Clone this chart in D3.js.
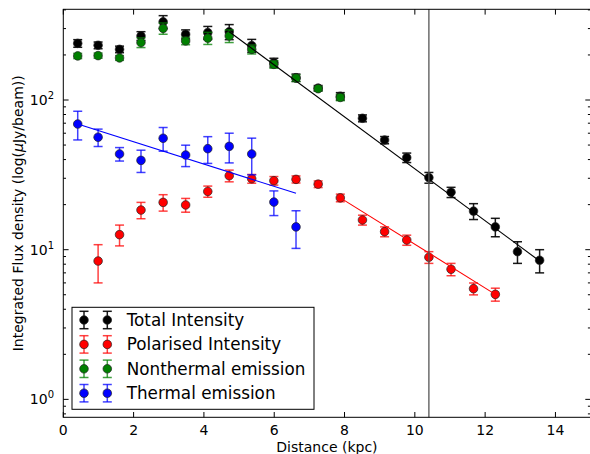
<!DOCTYPE html>
<html>
<head>
<meta charset="utf-8">
<script src="https://cdn.jsdelivr.net/npm/d3@7"></script>
<style>
  body { margin: 0; background: #fff; }
  text { font-family: "DejaVu Sans", sans-serif; }
</style>
</head>
<body>
<script>
// radial profiles: distance (kpc) vs integrated flux density (uJy/beam)

var distance = [0.41, 0.99, 1.60, 2.21, 2.84, 3.48, 4.11, 4.72, 5.36, 5.99, 6.62,
                7.25, 7.88, 8.51, 9.14, 9.77, 10.40, 11.03, 11.67, 12.29, 12.92, 13.55];

var totalFlux = [239, 232, 218, 268, 333, 275, 282, 286, 231, 178, 141,
                 120, 106, 75.5, 54, 41.2, 30.3, 24.2, 18.1, 14.2, 9.7, 8.5];
var totalErr  = [14, 12, 11, 18, 33, 19, 28, 33, 23, 12, 8,
                 5, 6, 4, 3, 3, 2.5, 1.9, 2.2, 2.0, 1.6, 1.5];

// polarised intensity starts at the second ring
var polFlux = [8.4, 12.6, 18.4, 20.7, 19.9, 24.5, 31.2, 29.8, 28.9, 29.5,
               27.4, 22.2, 15.8, 13.2, 11.6, 8.9, 7.4, 5.49, 5.03];
var polErr  = [2.4, 2.0, 2.3, 2.6, 2.1, 2.1, 2.8, 2.0, 1.9, 1.6,
               1.4, 1.3, 1.2, 1.0, 0.9, 0.8, 0.7, 0.5, 0.5];

var ntFlux = [197, 198, 191, 242, 301, 248, 259, 268, 218, 173, 140, 119, 104];
var ntErr  = [8, 8, 7, 18, 26, 14, 24, 26, 15, 10, 7, 4, 5];

var thFlux = [69.1, 56.4, 43.6, 39.5, 55.5, 42.9, 47.3, 49.0, 43.6, 20.8, 14.2];
var thErr  = [15, 7.5, 4.5, 6.7, 10, 7, 9.6, 11, 12, 3.9, 4];

// exponential fits (straight on the log axis), end points
var fitTotalX = [4.72, 13.55], fitTotalY = [286, 8.4];
var fitPolX   = [7.88, 12.29],  fitPolY   = [22.2, 5.03];
var fitThX    = [0.41, 6.62],   fitThY    = [69.1, 23.8];

var markerLine = 10.4;

var xTicks = [0, 2, 4, 6, 8, 10, 12, 14];
var legendNames = ["Total Intensity", "Polarised Intensity", "Nonthermal emission", "Thermal emission"];

//////////////////////////////////////////////////////////////////////////////

var W = 590, H = 454;
var pL = 63.3, pR = 590.6, pT = 9.3, pB = 417.3;

var svg = d3.select("body").append("svg")
    .attr("width", W)
    .attr("height", H);

var x = d3.scaleLinear().domain([0, 15]).range([pL, pR]);
var y = d3.scaleLog().domain([0.759, 403.6]).range([pB, pT]);

function zip(xs, vs, es) {
    return vs.map(function(v, i) { return {x: xs[i], v: v, e: es[i]}; });
}

var series = [
    {name: legendNames[0], color: "#000000", data: zip(distance, totalFlux, totalErr)},
    {name: legendNames[1], color: "#ff0000", data: zip(distance.slice(1), polFlux, polErr)},
    {name: legendNames[2], color: "#008000", data: zip(distance, ntFlux, ntErr)},
    {name: legendNames[3], color: "#0000ff", data: zip(distance, thFlux, thErr)}
];

var capW = 4.5, rad = 4.3;

series.forEach(function(s) {
    var g = svg.append("g");
    var eb = g.append("g")
        .attr("stroke", s.color)
        .attr("stroke-width", 1.5)
        .attr("stroke-opacity", s.color == "#000000" ? 0.9 : 0.75);
    eb.selectAll("line.v").data(s.data).enter().append("line")
        .attr("x1", d => x(d.x)).attr("x2", d => x(d.x))
        .attr("y1", d => y(d.v + d.e)).attr("y2", d => y(d.v - d.e));
    eb.selectAll("line.t").data(s.data).enter().append("line")
        .attr("x1", d => x(d.x) - capW).attr("x2", d => x(d.x) + capW)
        .attr("y1", d => y(d.v + d.e)).attr("y2", d => y(d.v + d.e));
    eb.selectAll("line.b").data(s.data).enter().append("line")
        .attr("x1", d => x(d.x) - capW).attr("x2", d => x(d.x) + capW)
        .attr("y1", d => y(d.v - d.e)).attr("y2", d => y(d.v - d.e));
    g.selectAll("circle").data(s.data).enter().append("circle")
        .attr("cx", d => x(d.x))
        .attr("cy", d => y(d.v))
        .attr("r", rad)
        .attr("fill", s.color)
        .attr("stroke", "#222")
        .attr("stroke-width", 0.7);
});

var line = d3.line().x(d => x(d[0])).y(d => y(d[1]));
[[fitTotalX, fitTotalY, "#000000"], [fitPolX, fitPolY, "#ff0000"], [fitThX, fitThY, "#0000ff"]]
    .forEach(function(f) {
        svg.append("path")
            .datum(f[0].map((v, i) => [v, f[1][i]]))
            .attr("d", line)
            .attr("fill", "none")
            .attr("stroke", f[2])
            .attr("stroke-width", 1.1);
    });

svg.append("line")
    .attr("x1", x(markerLine)).attr("x2", x(markerLine))
    .attr("y1", pT).attr("y2", pB)
    .attr("stroke", "#555")
    .attr("stroke-width", 1.3);

//////////////////////////////////////////////////////////////////////////////
// axes, ticks pointing in

var axes = svg.append("g").attr("stroke", "#000").attr("stroke-width", 1);

axes.selectAll("line.xb").data(xTicks).enter().append("line")
    .attr("x1", d => x(d)).attr("x2", d => x(d))
    .attr("y1", pB).attr("y2", pB - 5.3);
axes.selectAll("line.xt").data(xTicks).enter().append("line")
    .attr("x1", d => x(d)).attr("x2", d => x(d))
    .attr("y1", pT).attr("y2", pT + 5.3);

var yTicks = y.ticks().filter(d => d >= y.domain()[0] && d <= y.domain()[1]);
function isMajor(d) { return Math.abs(Math.log10(d) - Math.round(Math.log10(d))) < 1e-6; }

axes.selectAll("line.yl").data(yTicks).enter().append("line")
    .attr("x1", pL).attr("x2", d => pL + (isMajor(d) ? 5.3 : 2.7))
    .attr("y1", d => y(d)).attr("y2", d => y(d));
axes.selectAll("line.yr").data(yTicks).enter().append("line")
    .attr("x1", pR).attr("x2", d => pR - (isMajor(d) ? 5.3 : 2.7))
    .attr("y1", d => y(d)).attr("y2", d => y(d));

svg.append("rect")
    .attr("x", pL).attr("y", pT)
    .attr("width", pR - pL).attr("height", pB - pT)
    .attr("fill", "none").attr("stroke", "#000").attr("stroke-width", 1);

svg.selectAll("text.xl").data(xTicks).enter().append("text")
    .attr("x", d => x(d)).attr("y", pB + 18)
    .attr("text-anchor", "middle")
    .attr("font-size", 14)
    .text(d => d);

var yl = svg.selectAll("text.yl").data(yTicks.filter(isMajor)).enter().append("text")
    .attr("x", 54).attr("y", d => y(d) + 5)
    .attr("text-anchor", "end")
    .attr("font-size", 14);
yl.append("tspan").text("10");
yl.append("tspan").attr("dy", -6).attr("font-size", 10).text(d => Math.round(Math.log10(d)));

svg.append("text")
    .attr("x", (pL + pR) / 2).attr("y", 452)
    .attr("text-anchor", "middle")
    .attr("font-size", 14)
    .text("Distance (kpc)");

var ylab = svg.append("text")
    .attr("transform", "translate(22.5," + (pT + pB) / 2 + ") rotate(-90)")
    .attr("text-anchor", "middle")
    .attr("font-size", 14);
ylab.append("tspan").text("Integrated Flux density (log(");
ylab.append("tspan").attr("font-style", "italic").text("\u03bc");
ylab.append("tspan").text("Jy/beam))");

//////////////////////////////////////////////////////////////////////////////
// legend

var lg = svg.append("g");
lg.append("rect")
    .attr("x", 72).attr("y", 307.3)
    .attr("width", 242).attr("height", 102)
    .attr("fill", "#fff").attr("stroke", "#000").attr("stroke-width", 1);

series.forEach(function(s, i) {
    var cy = 320 + i * 24.4;
    [84, 107.3].forEach(function(cx) {
        var eg = lg.append("g").attr("stroke", s.color).attr("stroke-width", 1.5)
            .attr("stroke-opacity", s.color == "#000000" ? 0.9 : 0.75);
        eg.append("line").attr("x1", cx).attr("x2", cx).attr("y1", cy - 8.7).attr("y2", cy + 8.7);
        eg.append("line").attr("x1", cx - capW).attr("x2", cx + capW).attr("y1", cy - 8.7).attr("y2", cy - 8.7);
        eg.append("line").attr("x1", cx - capW).attr("x2", cx + capW).attr("y1", cy + 8.7).attr("y2", cy + 8.7);
        lg.append("circle").attr("cx", cx).attr("cy", cy).attr("r", rad)
            .attr("fill", s.color).attr("stroke", "#222").attr("stroke-width", 0.7);
    });
    lg.append("text")
        .attr("x", 126.7).attr("y", cy + 6)
        .attr("font-size", 16.8)
        .text(s.name);
});
</script>
</body>
</html>
